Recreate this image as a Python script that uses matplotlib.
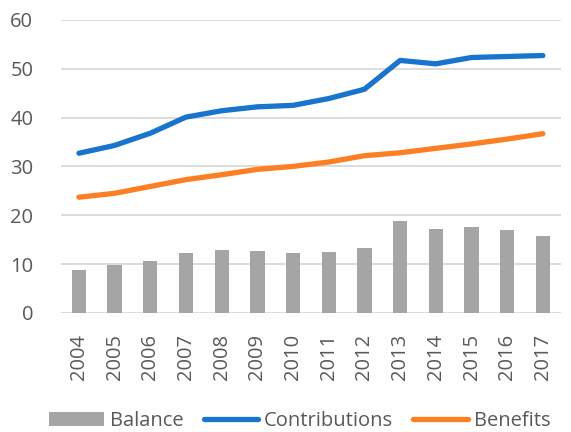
import matplotlib
matplotlib.use("Agg")
import matplotlib.pyplot as plt
import numpy as np

years = ["2004", "2005", "2006", "2007", "2008", "2009", "2010", "2011",
         "2012", "2013", "2014", "2015", "2016", "2017"]
balance = [8.7, 9.8, 10.7, 12.2, 12.9, 12.7, 12.2, 12.4, 13.3, 18.9, 17.1, 17.5, 16.9, 15.7]
contributions = [32.7, 34.3, 36.8, 40.1, 41.4, 42.2, 42.5, 43.9, 45.8, 51.7, 51.0, 52.3, 52.5, 52.7]
benefits = [23.7, 24.5, 25.9, 27.3, 28.3, 29.4, 30.0, 30.9, 32.2, 32.8, 33.7, 34.6, 35.6, 36.7]
yticks = [0, 10, 20, 30, 40, 50, 60]

plt.rcParams['font.family'] = ['Open Sans', 'DejaVu Sans']

fig = plt.figure(figsize=(5.71, 4.32), dpi=100)
ax = fig.add_axes([0.107, 0.2755, 0.875, 0.6785])

x = np.arange(len(years))
hb = ax.bar(x, balance, width=0.4, color='#A5A5A5', label='Balance', zorder=2)
hc, = ax.plot(x, contributions, color='#1874CD', lw=3.8, solid_capstyle='round', label='Contributions', zorder=3)
hf, = ax.plot(x, benefits, color='#FD7E23', lw=3.8, solid_capstyle='round', label='Benefits', zorder=3)

ax.set_xlim(-0.5, len(years) - 0.5)
ax.set_ylim(0, 60)
ax.set_yticks(yticks)
ax.set_yticklabels([str(v) for v in yticks])
ax.set_xticks(x)
ax.set_xticklabels(years, rotation=90)
ax.grid(axis='y', color='#D9D9D9', lw=1.3, zorder=0)
ax.set_axisbelow(True)
for s in ax.spines.values():
    s.set_visible(False)
ax.tick_params(axis='both', length=0, colors='#595959', labelsize=14.5)
ax.tick_params(axis='y', pad=20)
ax.tick_params(axis='x', pad=15)

leg = fig.legend([hb, hc, hf], ['Balance', 'Contributions', 'Benefits'],
                 loc='lower center', bbox_to_anchor=(0.525, -0.04), ncol=3, frameon=False,
                 fontsize=14.5, handlelength=2.7, handletextpad=0.3, columnspacing=1.0)
for t in leg.get_texts():
    t.set_color('#595959')

fig.savefig('out.png', dpi=100)
